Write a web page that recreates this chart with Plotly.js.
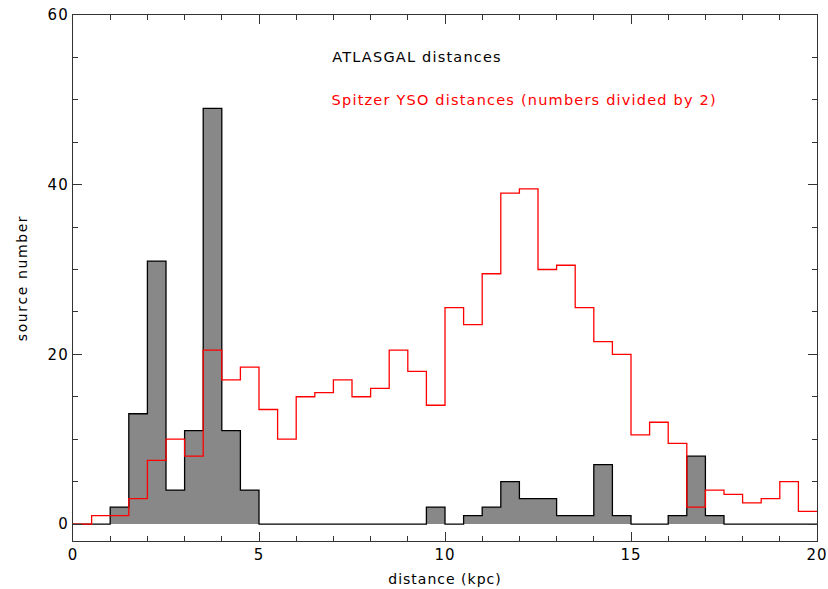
<!DOCTYPE html>
<html>
<head>
<meta charset="utf-8">
<script src="https://cdn.plot.ly/plotly-3.0.1.min.js"></script>
<style>
  body { margin: 0; background: #fff; }
  #plot { width: 828px; height: 589px; }
  /* the original lettering is wide and loosely spaced */
  #plot .annotation-text { letter-spacing: 1.2px; }
  #plot .xtitle { letter-spacing: 1px; }
  #plot .ytitle { letter-spacing: 1.6px; }
  #plot .xtick text, #plot .ytick text { letter-spacing: 1px; }
</style>
</head>
<body>
<div id="plot"></div>
<script>
// bin left edges (kpc), bins are 0.5 kpc wide
let binStart = [];
for (let i = 0; i < 40; i++) binStart.push(i * 0.5);

// ATLASGAL source counts per bin
let atlasCounts = [0, 0, 2, 13, 31, 4, 11, 49, 11, 4,
                   0, 0, 0, 0, 0, 0, 0, 0, 0, 2,
                   0, 1, 2, 5, 3, 3, 1, 1, 7, 1,
                   0, 0, 1, 8, 1, 0, 0, 0, 0, 0];

// Spitzer YSO counts per bin, already divided by 2
let spitzerHalf = [0, 1, 1, 3, 7.5, 10, 8, 20.5, 17, 18.5,
                   13.5, 10, 15, 15.5, 17, 15, 16, 20.5, 18, 14,
                   25.5, 23.5, 29.5, 39, 39.5, 30, 30.5, 25.5, 21.5, 20,
                   10.5, 12, 9.5, 2, 4, 3.5, 2.5, 3, 5, 1.5];

// step outlines need the closing edge as well
function stepX(starts) {
  return starts.concat([starts[starts.length - 1] + 0.5]);
}
function stepY(vals) {
  return vals.concat([vals[vals.length - 1]]);
}

let data = [
  {
    x: stepX(binStart),
    y: stepY(atlasCounts),
    type: 'scatter',
    mode: 'lines',
    line: {color: '#000', width: 1.3, shape: 'hv'},
    fill: 'tozeroy',
    fillcolor: '#888888',
    hoverinfo: 'skip'
  },
  {
    x: stepX(binStart),
    y: stepY(spitzerHalf),
    type: 'scatter',
    mode: 'lines',
    line: {color: '#ff0000', width: 1.3, shape: 'hv'},
    hoverinfo: 'skip'
  }
];

let axisFont = {family: 'DejaVu Sans', size: 15, color: '#000'};

let layout = {
  width: 828,
  height: 589,
  margin: {l: 73, r: 11, t: 15, b: 48},
  paper_bgcolor: '#fff',
  plot_bgcolor: '#fff',
  showlegend: false,
  xaxis: {
    range: [0, 20],
    tickvals: [0, 5, 10, 15, 20],
    ticks: 'inside',
    ticklen: 9,
    tickcolor: '#333',
    showline: true,
    linecolor: '#333',
    linewidth: 1.3,
    mirror: 'ticks',
    showgrid: false,
    zeroline: false,
    tickfont: axisFont,
    minor: {dtick: 1, ticks: 'inside', ticklen: 5, tickcolor: '#333', showgrid: false},
    title: {text: 'distance (kpc)', font: {family: 'DejaVu Sans', size: 14, color: '#000'}, standoff: 11}
  },
  yaxis: {
    range: [-2, 60],
    tickvals: [0, 20, 40, 60],
    ticks: 'inside',
    ticklen: 9,
    tickcolor: '#333',
    showline: true,
    linecolor: '#333',
    linewidth: 1.3,
    mirror: 'ticks',
    showgrid: false,
    zeroline: false,
    tickfont: axisFont,
    minor: {dtick: 5, ticks: 'inside', ticklen: 5, tickcolor: '#333', showgrid: false},
    title: {text: 'source number', font: {family: 'DejaVu Sans', size: 14, color: '#000'}, standoff: 18}
  },
  annotations: [
    {
      text: 'ATLASGAL distances',
      xref: 'x', yref: 'y', x: 7.2, y: 55.1,
      xanchor: 'left', yanchor: 'middle', showarrow: false,
      font: {family: 'DejaVu Sans', size: 14.5, color: '#000'}
    },
    {
      text: 'Spitzer YSO distances (numbers divided by 2)',
      xref: 'x', yref: 'y', x: 7.62, y: 50,
      xanchor: 'left', yanchor: 'middle', showarrow: false,
      font: {family: 'DejaVu Sans', size: 14.5, color: '#ff0000'}
    }
  ]
};

Plotly.newPlot('plot', data, layout, {staticPlot: true});
</script>
</body>
</html>
